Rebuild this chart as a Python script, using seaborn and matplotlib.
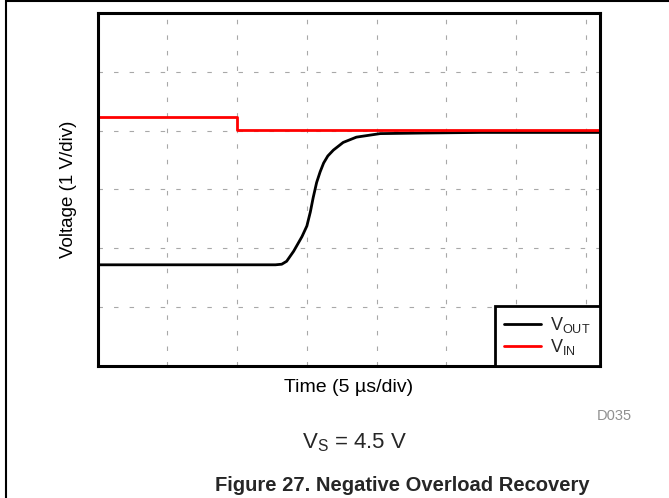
import matplotlib
matplotlib.use("Agg")
import matplotlib.pyplot as plt
from matplotlib.lines import Line2D
import pandas as pd
import seaborn as sns

# scope trace, read in divisions (x: 5 us/div, y: 1 V/div)
vin_t = [0.0, 2.0, 2.0, 7.2]
vin_v = [4.23, 4.23, 4.01, 4.01]

vout_t = [0.0, 2.55, 2.64, 2.71, 2.81, 2.93, 3.0, 3.05, 3.09, 3.14, 3.19, 3.24,
          3.30, 3.38, 3.52, 3.71, 4.05, 4.67, 5.5, 7.2]
vout_v = [1.72, 1.72, 1.73, 1.78, 1.95, 2.20, 2.38, 2.62, 2.86, 3.12, 3.30, 3.45,
          3.57, 3.67, 3.80, 3.89, 3.95, 3.96, 3.97, 3.97]

x_divs = list(range(0, 8))
y_divs = list(range(0, 7))

sns.set_theme(style="white")
plt.rcParams["font.family"] = ["Liberation Sans", "DejaVu Sans"]
plt.rcParams["mathtext.default"] = "regular"

vout = pd.DataFrame({"t": vout_t, "v": vout_v})
vin = pd.DataFrame({"t": vin_t, "v": vin_v})

fig = plt.figure(figsize=(6.69, 4.98), dpi=100)
ax = fig.add_axes([97.5 / 669, 1 - 366 / 498, 502.5 / 669, 353 / 498])

sns.lineplot(data=vout, x="t", y="v", ax=ax, color="black", lw=2.0,
             sort=False, estimator=None, label=r"V$_\mathregular{OUT}$")
sns.lineplot(data=vin, x="t", y="v", ax=ax, color="#ff0000", lw=2.0,
             sort=False, estimator=None, label=r"V$_\mathregular{IN}$")

ax.set_xlim(0, 7.2)
ax.set_ylim(0, 6)
ax.set_xticks(x_divs)
ax.set_yticks(y_divs)
ax.tick_params(length=0, labelbottom=False, labelleft=False)
ax.grid(True, color="#a8a8a8", lw=0.8, linestyle=(0, (4, 10)))
for s in ax.spines.values():
    s.set_color("black")
    s.set_linewidth(2.2)

ax.set_xlabel("Time (5 \u00b5s/div)", fontsize=14, labelpad=9, color="black")
ax.set_ylabel("Voltage (1 V/div)", fontsize=13.5, labelpad=15, color="black")

leg = ax.legend(loc="lower right", borderaxespad=0, fancybox=False,
                framealpha=1, edgecolor="black", fontsize=13,
                handlelength=2.0, handletextpad=0.55, labelspacing=0.1,
                borderpad=0.5)
leg.get_frame().set_linewidth(2.0)

fig.text(632 / 669, 1 - 416 / 498, "D035", fontsize=10.5, color="#909090",
         ha="right", va="center")
fig.text(355 / 669, 1 - 443 / 498, r"V$_\mathregular{S}$ = 4.5 V", fontsize=16,
         ha="center", va="center")
fig.text(402 / 669, 1 - 485 / 498, "Figure 27. Negative Overload Recovery",
         fontsize=14.5, fontweight="bold", ha="center", va="center")

# page frame
fig.add_artist(Line2D([6 / 669, 1], [1 - 1.5 / 498] * 2, color="black", lw=1.5))
fig.add_artist(Line2D([6 / 669] * 2, [0, 1], color="black", lw=1.5))

fig.savefig("out.png", dpi=100)
